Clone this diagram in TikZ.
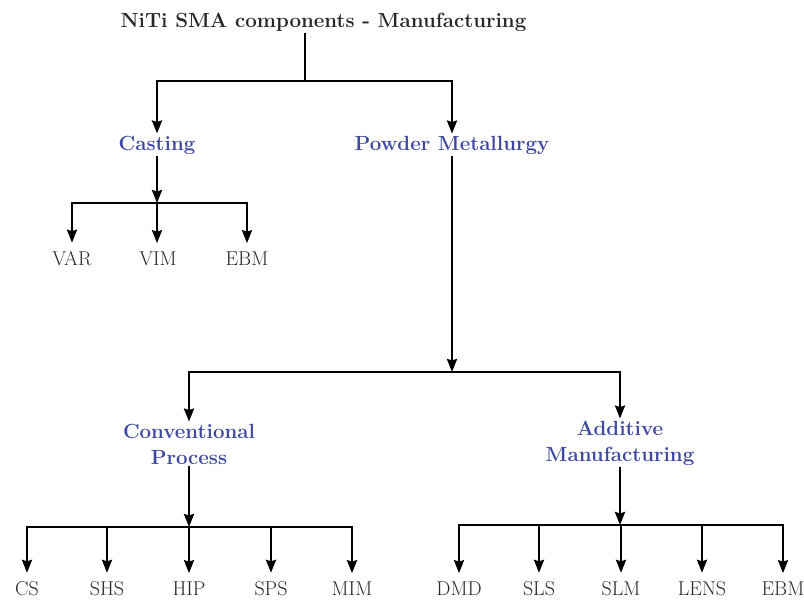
\documentclass[tikz,border=0pt]{standalone}
\usetikzlibrary{arrows.meta}
\definecolor{catblue}{RGB}{62,72,160}
\definecolor{txtgray}{RGB}{40,40,40}
\begin{document}
\begin{tikzpicture}[x=1pt,y=-1pt,
 line/.style={line width=2.5pt,black},
 arr/.style={line,-{Stealth[length=13pt,width=10pt,inset=1.5pt]}},
 leafarr/.style={arr,shorten >=5pt},
 titlebox/.style={font=\fontsize{20.5}{25}\selectfont\bfseries,text=txtgray,anchor=base,inner sep=2pt},
 catbox/.style={font=\fontsize{20.5}{26}\selectfont\bfseries,text=catblue,inner sep=2pt,align=center},
 leaf/.style={font=\fontsize{20}{24}\selectfont,text=txtgray,anchor=base,inner sep=3pt}]
\fill[white] (0,0) rectangle (804,600);
\path[use as bounding box] (0,0) rectangle (804,600);

% nodes
\node[titlebox] (title) at (323.5,27) {NiTi SMA components - Manufacturing};
\node[catbox,anchor=base] (cast) at (157,150) {Casting};
\node[catbox,anchor=base] (pm) at (452,150) {Powder Metallurgy};
\node[leaf] (var) at (72,265) {VAR};
\node[leaf] (vim) at (158,265) {VIM};
\node[leaf] (ebma) at (247,265) {EBM};
\node[catbox] (conv) at (189,444) {Conventional\\Process};
\node[catbox] (add) at (620,443) {Additive\\Manufacturing};
\node[leaf] (cs) at (27,595) {CS};
\node[leaf] (shs) at (107,595) {SHS};
\node[leaf] (hip) at (189,595) {HIP};
\node[leaf] (sps) at (271,595) {SPS};
\node[leaf] (mim) at (352,595) {MIM};
\node[leaf] (dmd) at (459,595) {DMD};
\node[leaf] (sls) at (539,595) {SLS};
\node[leaf] (slm) at (621,595) {SLM};
\node[leaf] (lens) at (702,595) {LENS};
\node[leaf] (ebmb) at (783,595) {EBM};

% junctions
\coordinate (j0) at (305,81);
\coordinate (jc) at (157,203);
\coordinate (jp) at (452,372);
\coordinate (jv) at (189,527);
\coordinate (ja) at (620,525);

% connectors
\draw[line] (title.south -| j0) -- (j0);
\draw[arr] (j0) -| (cast.north);
\draw[arr] (j0) -| (pm.north);

\draw[arr] (cast.south) -- (jc);
\draw[leafarr] (jc) -| (var.north);
\draw[leafarr] (jc) -- (vim.north -| jc);
\draw[leafarr] (jc) -| (ebma.north);

\draw[arr] (pm.south) -- (jp);
\draw[arr] (jp) -| (conv.north);
\draw[arr] (jp) -| (add.north);

\draw[arr] (conv.south) -- (jv);
\draw[leafarr] (jv) -| (cs.north);
\draw[leafarr] (jv) -| (shs.north);
\draw[leafarr] (jv) -- (hip.north);
\draw[leafarr] (jv) -| (sps.north);
\draw[leafarr] (jv) -| (mim.north);

\draw[arr] (add.south) -- (ja);
\draw[leafarr] (ja) -| (dmd.north);
\draw[leafarr] (ja) -| (sls.north);
\draw[leafarr] (ja) -| (slm.north);
\draw[leafarr] (ja) -| (lens.north);
\draw[leafarr] (ja) -| (ebmb.north);
\end{tikzpicture}
\end{document}
